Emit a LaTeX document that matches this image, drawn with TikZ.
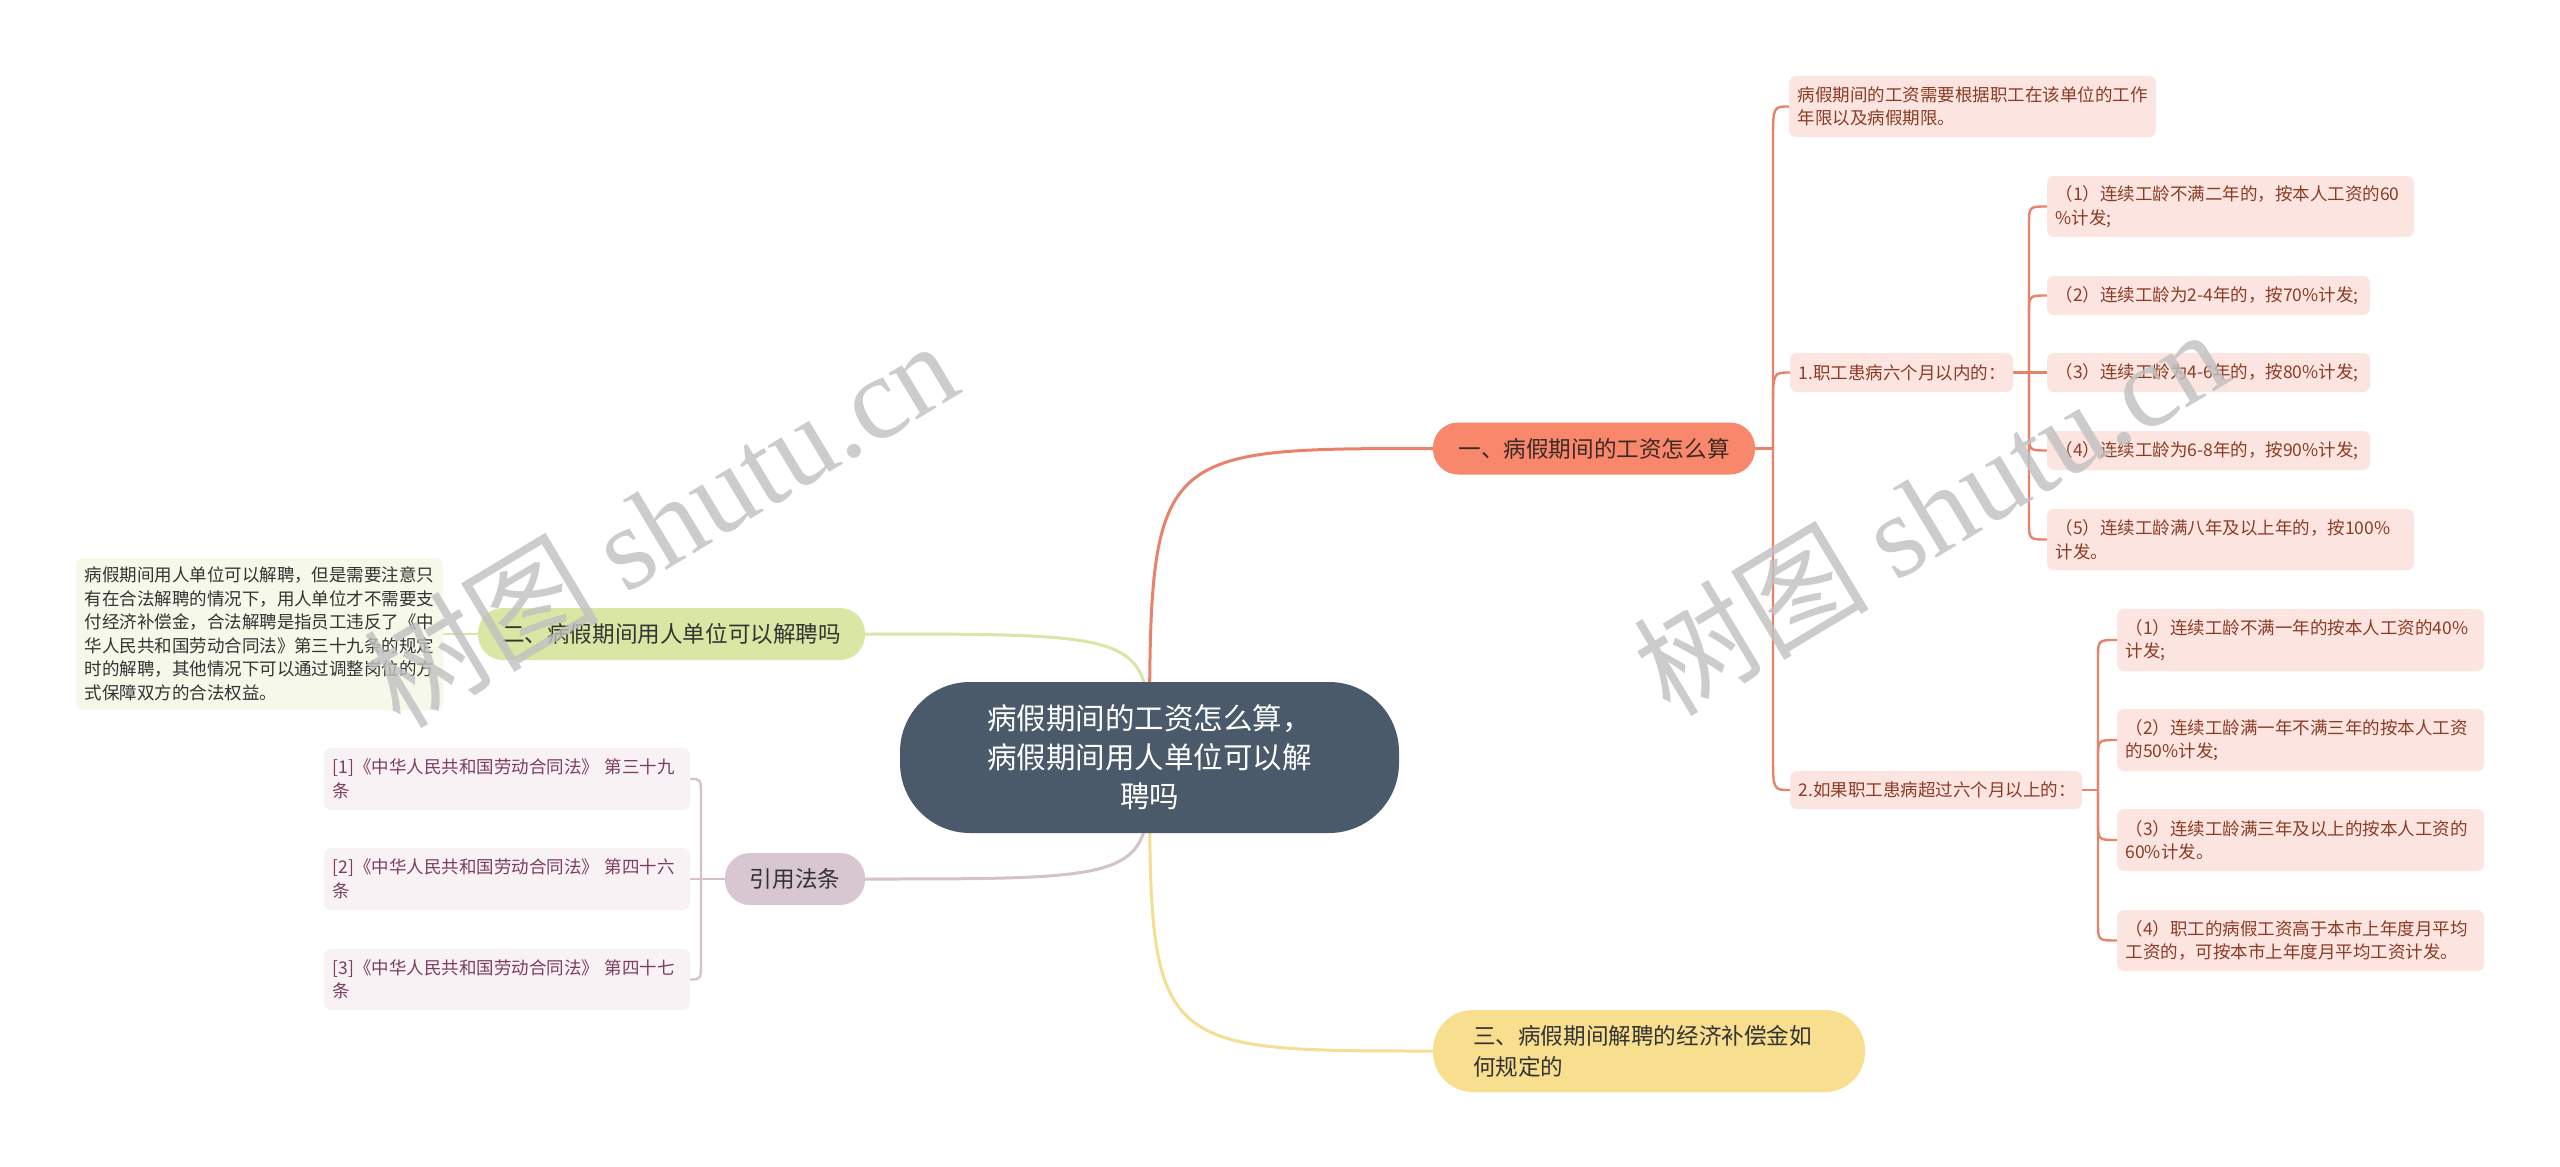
\documentclass[tikz,border=0pt]{standalone}
\usepackage{fontspec}
\setmainfont{Noto Sans CJK SC}
\newfontfamily\wmcjk{Noto Sans CJK SC}
\newfontfamily\wmlatin{Liberation Serif}
\usetikzlibrary{calc,backgrounds}
\definecolor{rootfill}{HTML}{4A5A6A}
\definecolor{orfill}{HTML}{F8876C}
\definecolor{ortext}{HTML}{3C2A24}
\definecolor{pinkfill}{HTML}{FCE5E0}
\definecolor{pinktext}{HTML}{8C3B24}
\definecolor{orline}{HTML}{E8836A}
\definecolor{grfill}{HTML}{D8E7A4}
\definecolor{grlight}{HTML}{F6F9EA}
\definecolor{grline}{HTML}{D9E6A8}
\definecolor{mafill}{HTML}{D8C6D0}
\definecolor{malight}{HTML}{F8F2F5}
\definecolor{matext}{HTML}{7D3C62}
\definecolor{maline}{HTML}{D4C1CC}
\definecolor{yefill}{HTML}{F8DE8F}
\definecolor{yeline}{HTML}{F5DD91}
\definecolor{darktext}{HTML}{333333}
\definecolor{wmgray}{HTML}{C0C0C0}
\newcommand\fsroot{\fontsize{29.5pt}{39pt}\selectfont}
\newcommand\fsbr{\fontsize{22.6pt}{31pt}\selectfont}
\newcommand\fsleaf{\fontsize{17.5pt}{23.5pt}\selectfont}
\newcommand\fswm{\fontsize{118pt}{120pt}\selectfont}
\tikzset{
  every node/.style={inner sep=0pt, outer sep=0pt},
  rootnode/.style={fill=rootfill, text=white, rounded corners=70pt, minimum width=499pt, minimum height=151pt, align=center, font=\fsroot},
  pill/.style={rounded corners=25pt, minimum height=52pt, align=center, font=\fsbr},
  leafbox/.style={rounded corners=7pt, inner xsep=8.5pt, align=left, font=\fsleaf},
  pinkleaf/.style={leafbox, fill=pinkfill, text=pinktext},
  greenleaf/.style={leafbox, fill=grlight, text=darktext},
  mauveleaf/.style={leafbox, fill=malight, text=matext},
  mainline/.style={line width=3pt},
  subline/.style={line width=2.4pt},
  wm/.style={text=wmgray, opacity=0.8, font=\fswm, rotate=31}
}
\begin{document}
\begin{tikzpicture}[x=1pt,y=-1pt]
\useasboundingbox (0,0) rectangle (2560,1167);
% root
\node[rootnode] (root) at (1149.5,757.5) {病假期间的工资怎么算，\\病假期间用人单位可以解\\聘吗};
% branch 1
\node[pill, fill=orfill, text=ortext, minimum width=322pt] (b1) at (1594,448.5) {一、病假期间的工资怎么算};
\node[pinkleaf, text width=350pt, minimum height=61pt] (c11) at (1972.5,106.5) {病假期间的工资需要根据职工在该单位的工作\\年限以及病假期限。};
\node[pinkleaf, text width=206pt, minimum height=39pt] (c12) at (1901.5,372.5) {1.职工患病六个月以内的：};
\node[pinkleaf, text width=350pt, minimum height=61pt] (c121) at (2230.5,206.5) {（1）连续工龄不满二年的，按本人工资的60\\\%计发;};
\node[pinkleaf, text width=306pt, minimum height=39pt] (c122) at (2208.5,295.5) {（2）连续工龄为2-4年的，按70\%计发;};
\node[pinkleaf, text width=306pt, minimum height=39pt] (c123) at (2208.5,372.5) {（3）连续工龄为4-6年的，按80\%计发;};
\node[pinkleaf, text width=306pt, minimum height=39pt] (c124) at (2208.5,450.5) {（4）连续工龄为6-8年的，按90\%计发;};
\node[pinkleaf, text width=350pt, minimum height=61pt] (c125) at (2230.5,539.5) {（5）连续工龄满八年及以上年的，按100\%\\计发。};
\node[pinkleaf, text width=275pt, minimum height=38pt] (c13) at (1936,790) {2.如果职工患病超过六个月以上的：};
\node[pinkleaf, text width=350pt, minimum height=62pt] (c131) at (2300.5,640) {（1）连续工龄不满一年的按本人工资的40\%\\计发;};
\node[pinkleaf, text width=350pt, minimum height=62pt] (c132) at (2300.5,740) {（2）连续工龄满一年不满三年的按本人工资\\的50\%计发;};
\node[pinkleaf, text width=350pt, minimum height=62pt] (c133) at (2300.5,840) {（3）连续工龄满三年及以上的按本人工资的\\60\%计发。};
\node[pinkleaf, text width=350pt, minimum height=61pt] (c134) at (2300.5,940.5) {（4）职工的病假工资高于本市上年度月平均\\工资的，可按本市上年度月平均工资计发。};
% branch 2
\node[pill, fill=grfill, text=darktext, minimum width=387pt] (b2) at (671.5,634) {二、病假期间用人单位可以解聘吗};
\node[greenleaf, text width=350pt, minimum height=152pt] (t2) at (259.5,634) {病假期间用人单位可以解聘，但是需要注意只\\有在合法解聘的情况下，用人单位才不需要支\\付经济补偿金，合法解聘是指员工违反了《中\\华人民共和国劳动合同法》第三十九条的规定\\时的解聘，其他情况下可以通过调整岗位的方\\式保障双方的合法权益。};
% branch 3
\node[pill, fill=mafill, text=darktext, minimum width=140pt] (b3) at (795,879) {引用法条};
\node[mauveleaf, text width=349pt, minimum height=62pt] (cit1) at (507,779) {[1]《中华人民共和国劳动合同法》~第三十九\\条};
\node[mauveleaf, text width=349pt, minimum height=62pt] (cit2) at (507,879) {[2]《中华人民共和国劳动合同法》~第四十六\\条};
\node[mauveleaf, text width=349pt, minimum height=61pt] (cit3) at (507,979.5) {[3]《中华人民共和国劳动合同法》~第四十七\\条};
% branch 4
\node[fill=yefill, text=darktext, rounded corners=40pt, inner xsep=40pt, text width=352pt, minimum height=82pt, align=left, font=\fsbr] (b4) at (1649,1051) {三、病假期间解聘的经济补偿金如\\何规定的};

\begin{pgfonlayer}{background}
\fill[white] (0,0) rectangle (2560,1167);
% root connectors
\draw[orline, mainline] (root.center) .. controls (root.center |- b1.west) .. (b1.west);
\draw[grline, mainline] (root.center) .. controls (root.center |- b2.east) .. (b2.east);
\draw[maline, mainline] (root.center) .. controls (root.center |- b3.east) .. (b3.east);
\draw[yeline, mainline] (root.center) .. controls (root.center |- b4.west) .. (b4.west);
\draw[grline, subline] (b2.west) -- (t2.east);
% branch 1 children
\coordinate (tr1) at ($(b1.east)+(18,0)$);
\draw[orline, subline] (b1.east) -- (tr1);
\draw[orline, subline] (tr1) -- ($(tr1 |- c11.west)+(0,35)$) .. controls (tr1 |- c11.west) .. (c11.west);
\draw[orline, subline] (tr1) -- ($(tr1 |- c12.west)+(0,35)$) .. controls (tr1 |- c12.west) .. (c12.west);
\draw[orline, subline] (tr1) -- ($(tr1 |- c13.west)+(0,-35)$) .. controls (tr1 |- c13.west) .. (c13.west);
% c12 children
\coordinate (tr2) at ($(c12.east)+(16,0)$);
\draw[orline, subline] (c12.east) -- (tr2);
\draw[orline, subline] (tr2) -- ($(tr2 |- c121.west)+(0,18)$) .. controls (tr2 |- c121.west) .. (c121.west);
\draw[orline, subline] (tr2) -- ($(tr2 |- c122.west)+(0,18)$) .. controls (tr2 |- c122.west) .. (c122.west);
\draw[orline, subline] (tr2) -- (c123.west);
\draw[orline, subline] (tr2) -- ($(tr2 |- c124.west)+(0,-18)$) .. controls (tr2 |- c124.west) .. (c124.west);
\draw[orline, subline] (tr2) -- ($(tr2 |- c125.west)+(0,-18)$) .. controls (tr2 |- c125.west) .. (c125.west);
% c13 children
\coordinate (tr3) at ($(c13.east)+(16,0)$);
\draw[orline, subline] (c13.east) -- (tr3);
\draw[orline, subline] (tr3) -- ($(tr3 |- c131.west)+(0,18)$) .. controls (tr3 |- c131.west) .. (c131.west);
\draw[orline, subline] (tr3) -- ($(tr3 |- c132.west)+(0,18)$) .. controls (tr3 |- c132.west) .. (c132.west);
\draw[orline, subline] (tr3) -- ($(tr3 |- c133.west)+(0,-18)$) .. controls (tr3 |- c133.west) .. (c133.west);
\draw[orline, subline] (tr3) -- ($(tr3 |- c134.west)+(0,-18)$) .. controls (tr3 |- c134.west) .. (c134.west);
% citations
\coordinate (tr4) at ($(b3.west)+(-24,0)$);
\draw[maline, subline] (b3.west) -- (tr4);
\draw[maline, subline] (tr4) -- ($(tr4 |- cit1.east)+(0,18)$) .. controls (tr4 |- cit1.east) .. (cit1.east);
\draw[maline, subline] (tr4) -- (cit2.east);
\draw[maline, subline] (tr4) -- ($(tr4 |- cit3.east)+(0,-18)$) .. controls (tr4 |- cit3.east) .. (cit3.east);
\end{pgfonlayer}
% watermarks
\node[wm] (wm1) at (660,522) {{\wmcjk 树图} {\wmlatin shutu.cn}};
\node[wm] (wm2) at (1930,510) {{\wmcjk 树图} {\wmlatin shutu.cn}};
\end{tikzpicture}
\end{document}
